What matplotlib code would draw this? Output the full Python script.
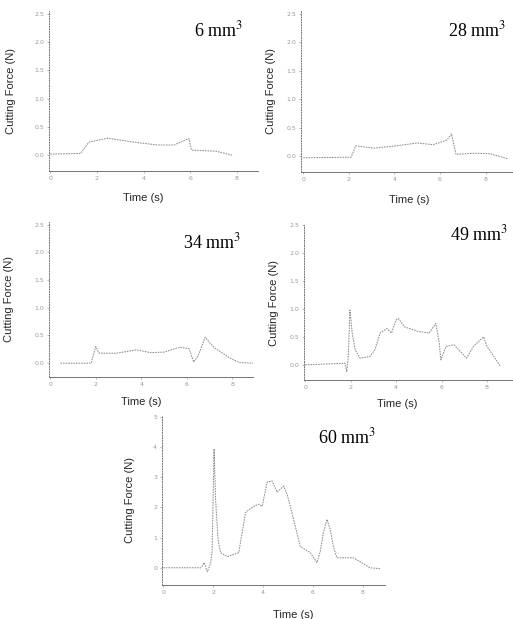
import matplotlib
matplotlib.use("Agg")
import matplotlib.pyplot as plt

plt.rcParams["mathtext.fontset"] = "stix"

# volumes removed (mm^3) shown in each panel
labels = ["6 mm$^3$", "28 mm$^3$", "34 mm$^3$", "49 mm$^3$", "60 mm$^3$"]

# cutting force traces (time s, force N)
t6 = [0, 1.3, 1.66, 2.45, 3.6, 4.6, 5.3, 5.8, 5.95, 6.05, 7.1, 7.8]
f6 = [0.02, 0.03, 0.23, 0.3, 0.23, 0.18, 0.18, 0.27, 0.29, 0.09, 0.07, 0.0]

t28 = [0, 2.1, 2.3, 3.1, 4.1, 5.0, 5.7, 6.3, 6.5, 6.7, 7.5, 8.2, 9.0]
f28 = [-0.03, -0.02, 0.18, 0.14, 0.18, 0.23, 0.2, 0.28, 0.39, 0.03, 0.05, 0.04, -0.05]

t34 = [0.45, 1.8, 2.0, 2.15, 2.9, 3.8, 4.4, 5.0, 5.7, 6.1, 6.3, 6.5, 6.8, 7.0, 7.2, 7.9, 8.3, 8.9]
f34 = [0.0, 0.0, 0.3, 0.18, 0.18, 0.24, 0.19, 0.2, 0.29, 0.26, 0.02, 0.14, 0.47, 0.37, 0.28, 0.09, 0.01, 0.0]

t49 = [0, 1.17, 1.75, 1.83, 1.9, 1.97, 2.07, 2.2, 2.42, 2.85, 3.07, 3.3, 3.6, 3.8, 4.0,
       4.1, 4.37, 4.95, 5.45, 5.75, 5.9, 5.97, 6.2, 6.55, 7.1, 7.4, 7.85, 8.0, 8.6]
f49 = [0.0, 0.02, 0.03, -0.12, 0.15, 0.98, 0.57, 0.27, 0.12, 0.15, 0.27, 0.57, 0.65, 0.57, 0.8,
       0.83, 0.68, 0.6, 0.57, 0.74, 0.39, 0.09, 0.33, 0.36, 0.12, 0.33, 0.5, 0.33, -0.03]

t60 = [0, 1.52, 1.64, 1.77, 1.9, 1.96, 2.04, 2.1, 2.2, 2.3, 2.57, 3.03, 3.17, 3.3, 3.63,
       3.83, 3.97, 4.17, 4.37, 4.57, 4.83, 4.97, 5.1, 5.3, 5.5, 5.9, 6.17, 6.3, 6.43,
       6.57, 6.7, 6.83, 6.97, 7.63, 7.9, 8.3, 8.7]
f60 = [0.0, 0.0, 0.17, -0.13, 0.15, 0.53, 3.93, 2.27, 0.93, 0.5, 0.37, 0.5, 1.17, 1.83, 2.03,
       2.1, 2.03, 2.83, 2.87, 2.5, 2.7, 2.43, 2.03, 1.37, 0.7, 0.5, 0.17, 0.53, 1.17,
       1.6, 1.27, 0.7, 0.33, 0.33, 0.2, 0.0, -0.03]

yticks_small = [0.0, 0.5, 1.0, 1.5, 2.0, 2.5]
yticks_big = [0, 1, 2, 3, 4, 5]
xticks = [0, 2, 4, 6, 8]

W, H = 513, 619
fig = plt.figure(figsize=(W / 100, H / 100), dpi=100)


def add_panel(box, t, f, label, xlim, ylim, yticks, title_xy, ylab_x, xlab_xy):
    # box in pixels: left, top, right, bottom
    l, tp, r, b = box
    ax = fig.add_axes([l / W, (H - b) / H, (r - l) / W, (b - tp) / H])
    ax.plot(t, f, color="0.55", lw=0.75, ls=(0, (1.5, 1)))
    ax.set_xlim(*xlim)
    ax.set_ylim(*ylim)
    ax.set_xticks(xticks)
    ax.set_yticks(yticks)
    ax.tick_params(labelsize=4.5, labelcolor="0.6", color="0.6", length=1.5, width=0.5, pad=2)
    for s in ["top", "right"]:
        ax.spines[s].set_visible(False)
    ax.spines["left"].set_linestyle(":")
    ax.spines["bottom"].set_linestyle((0, (3, 1)))
    for s in ["left", "bottom"]:
        ax.spines[s].set_color("0.45")
        ax.spines[s].set_linewidth(0.7)
    ax.set_ylabel("Cutting Force (N)", fontsize=8, family="Liberation Sans", color="0.15")
    ax.yaxis.set_label_coords(ylab_x, 0.5)
    ax.set_xlabel("Time (s)", fontsize=8, family="Liberation Sans", color="0.15")
    ax.xaxis.set_label_coords(*xlab_xy)
    ax.text(title_xy[0], title_xy[1], label, transform=ax.transAxes, ha="center", va="center",
            fontsize=13, family="Liberation Serif", color="black")
    return ax


add_panel((49, 11, 258, 171), t6, f6, labels[0], (-0.05, 8.9), (-0.28, 2.55), yticks_small,
          (0.81, 0.88), -0.16, (0.45, -0.14))
add_panel((301, 11, 513, 172), t28, f28, labels[1], (-0.1, 9.2), (-0.28, 2.55), yticks_small,
          (0.83, 0.88), -0.12, (0.51, -0.14))
add_panel((49, 222, 253, 377), t34, f34, labels[2], (-0.05, 8.9), (-0.25, 2.55), yticks_small,
          (0.80, 0.87), -0.17, (0.45, -0.13))
add_panel((304, 225, 512, 380), t49, f49, labels[3], (-0.05, 9.1), (-0.27, 2.5), yticks_small,
          (0.84, 0.94), -0.12, (0.45, -0.12))
add_panel((162, 415, 385, 585), t60, f60, labels[4], (-0.05, 8.9), (-0.57, 5.05), yticks_big,
          (0.83, 0.87), -0.12, (0.59, -0.15))

fig.savefig("out.png", dpi=100, facecolor="white")
